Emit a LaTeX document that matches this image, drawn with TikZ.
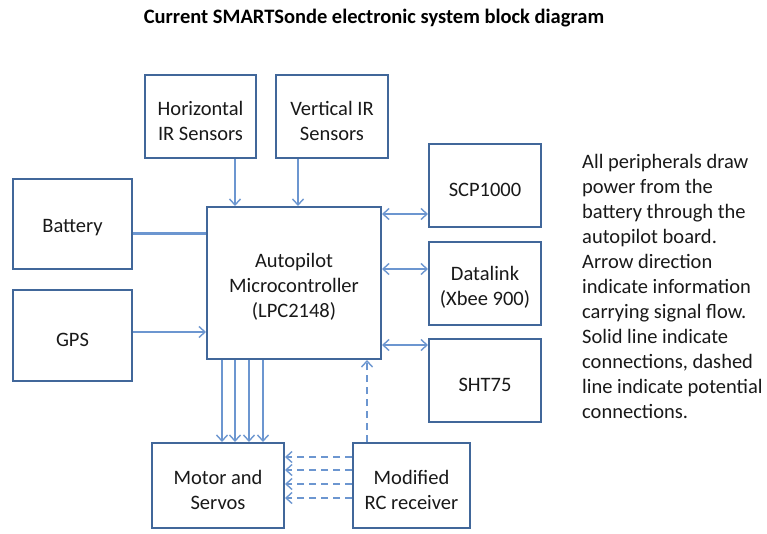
\documentclass[tikz,border=0pt]{standalone}
\usepackage{fontspec}
\setmainfont{Carlito}
\usetikzlibrary{arrows.meta}
\definecolor{boxc}{HTML}{41679A}
\definecolor{arrc}{HTML}{6C96D0}
\begin{document}
\begin{tikzpicture}[x=1pt,y=-1pt,
  blk/.style={draw=boxc,line width=2pt,fill=white,inner sep=0pt},
  lbl/.style={align=center,inner sep=0pt,yshift=-4pt,
    font=\fontsize{20.5}{25}\selectfont,text=black!90},
  conn/.style={draw=arrc,line width=1.4pt},
  tip/.style={-{Straight Barb[length=6pt,width=11pt,line width=1.4pt]}},
  btip/.style={{Straight Barb[length=6pt,width=11pt,line width=1.4pt]}-{Straight Barb[length=6pt,width=11pt,line width=1.4pt]}},
  dsh/.style={dash pattern=on 7pt off 5pt}]
\useasboundingbox (0,0) rectangle (767,534);
\node[font=\bfseries\fontsize{20.5}{24}\selectfont,text=black] (title) at (374,18.5) {Current SMARTSonde electronic system block diagram};
% boxes: center, width, height
\node[blk,minimum width=111pt,minimum height=83pt,label={[lbl]center:{Horizontal\\IR Sensors}}] (hir) at (200.5,116.5) {};
\node[blk,minimum width=112pt,minimum height=83pt,label={[lbl]center:{Vertical IR\\Sensors}}] (vir) at (332,116.5) {};
\node[blk,minimum width=119pt,minimum height=90pt,label={[lbl]center:{Battery}}] (bat) at (72.5,224) {};
\node[blk,minimum width=119pt,minimum height=91pt,label={[lbl]center:{GPS}}] (gps) at (72.5,335.5) {};
\node[blk,minimum width=174pt,minimum height=152pt,label={[lbl]center:{Autopilot\\Microcontroller\\(LPC2148)}}] (ap) at (294,283) {};
\node[blk,minimum width=112pt,minimum height=83pt,label={[lbl]center:{SCP1000}}] (scp) at (485,185.5) {};
\node[blk,minimum width=112pt,minimum height=83pt,label={[lbl]center:{Datalink\\(Xbee 900)}}] (dl) at (485,283.5) {};
\node[blk,minimum width=112pt,minimum height=83pt,label={[lbl]center:{SHT75}}] (sht) at (485,380.5) {};
\node[blk,minimum width=132pt,minimum height=85pt,label={[lbl]center:{Motor and\\Servos}}] (mot) at (218,485.5) {};
\node[blk,minimum width=117pt,minimum height=85pt,label={[lbl]center:{Modified\\RC receiver}}] (rc) at (411.5,485.5) {};
% note
\node[anchor=north west,align=left,inner sep=0pt,font=\fontsize{20.5}{25}\selectfont,text=black!90] (note) at (582,154)
{All peripherals draw\\power from the\\battery through the\\autopilot board.\\Arrow direction\\indicate information\\carrying signal flow.\\Solid line indicate\\connections, dashed\\line indicate potential\\connections.};
% connectors
\draw[conn,line width=3pt] (bat.east |- 0,234) -- (ap.west |- 0,234);
\draw[conn,tip] (gps.east |- 0,332) -- (ap.west |- 0,332);
\draw[conn,tip] (hir.south -| 235,0) -- (ap.north -| 235,0);
\draw[conn,tip] (vir.south -| 298,0) -- (ap.north -| 298,0);
\draw[conn,btip] (ap.east |- 0,214) -- (scp.west |- 0,214);
\draw[conn,btip] (ap.east |- 0,269) -- (dl.west |- 0,269);
\draw[conn,btip] (ap.east |- 0,345) -- (sht.west |- 0,345);
\foreach \xx in {222,235,249,263}
  \draw[conn,tip] (ap.south -| \xx,0) -- (mot.north -| \xx,0);
\foreach \yy in {457,470,484,498}
  \draw[conn,tip,dsh] (rc.west |- 0,\yy) -- (mot.east |- 0,\yy);
\draw[conn,tip,dsh] (rc.north -| 367,0) -- (ap.south -| 367,0);
\end{tikzpicture}
\end{document}
